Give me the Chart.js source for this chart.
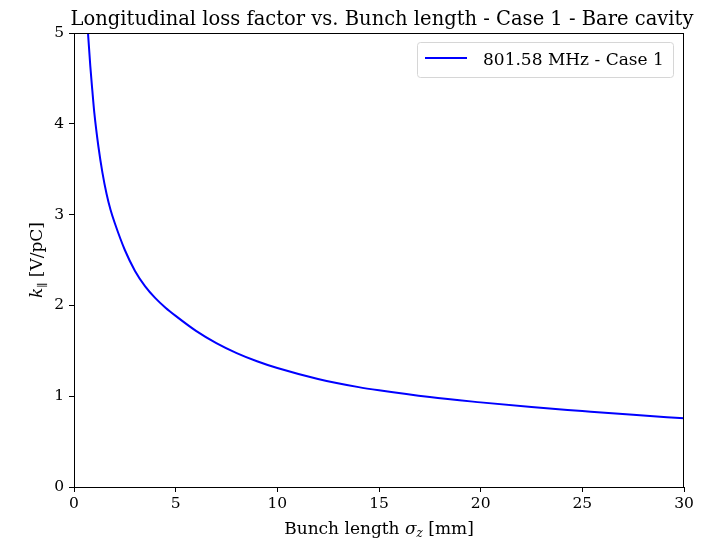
<!DOCTYPE html>
<html>
<head>
<meta charset="utf-8">
<script src="https://cdn.jsdelivr.net/npm/chart.js@4.4.1/dist/chart.umd.min.js"></script>
<style>
  html, body { margin: 0; padding: 0; background: #fff; }
  #wrap { width: 702px; height: 542px; }
</style>
</head>
<body>
<div id="wrap"><canvas id="lossChart" width="702" height="542"></canvas></div>
<script>
// bunch length sigma_z [mm] and loss factor k [V/pC]
const bunchLength = [0.6, 0.7, 0.8, 0.9, 1.0, 1.2, 1.4, 1.6, 1.8, 2.0, 2.5, 3.0, 3.5, 4.0, 4.5, 5.0, 6.0, 7.0, 8.0, 9.0, 10, 12, 14, 15, 17.5, 20, 22.5, 25, 27.5, 30];
const lossFactor  = [5.35, 4.96, 4.64, 4.37, 4.12, 3.75, 3.46, 3.23, 3.05, 2.91, 2.61, 2.38, 2.21, 2.08, 1.975, 1.885, 1.72, 1.585, 1.475, 1.385, 1.31, 1.19, 1.10, 1.065, 0.99, 0.932, 0.88, 0.837, 0.795, 0.756];
const seriesLabel = "801.58 MHz - Case 1";
const titleText = "Longitudinal loss factor vs. Bunch length - Case 1 - Bare cavity";
const xTicks = [0, 5, 10, 15, 20, 25, 30];
const yTicks = [0, 1, 2, 3, 4, 5];

const serif = "'DejaVu Serif', 'Liberation Serif', serif";

// frame, title, axis labels and legend, matplotlib style
const decor = {
    id: "decor",
    afterDraw(chart) {
        const c = chart.ctx;
        const a = chart.chartArea;
        c.save();
        c.strokeStyle = "#000";
        c.lineWidth = 1;
        c.strokeRect(a.left + 0.5, a.top + 0.5, a.right - a.left - 1, a.bottom - a.top);

        c.fillStyle = "#000";
        c.textAlign = "center";
        c.textBaseline = "alphabetic";
        c.font = "19.5px " + serif;
        c.fillText(titleText, (a.left + a.right) / 2 + 3, 25);

        // x label: Bunch length σ_z [mm]
        const partsX = [
            ["Bunch length ", "17px " + serif, 0],
            ["σ", "italic 17px " + serif, 0],
            ["z", "italic 12px " + serif, 3],
            [" [mm]", "17px " + serif, 0]
        ];
        drawParts(c, partsX, (a.left + a.right) / 2, 534);

        // y label: k_∥ [V/pC], rotated
        c.save();
        c.translate(42, (a.top + a.bottom) / 2);
        c.rotate(-Math.PI / 2);
        const partsY = [
            ["k", "italic 17px " + serif, 0],
            ["∥", "11px " + serif, 4],
            [" [V/pC]", "17px " + serif, 0]
        ];
        drawParts(c, partsY, 0, 0);
        c.restore();

        // legend
        const lx = 417.5, ly = 42.5, lw = 256, lh = 35;
        c.beginPath();
        c.roundRect(lx, ly, lw, lh, 3);
        c.fillStyle = "rgba(255,255,255,0.8)";
        c.fill();
        c.strokeStyle = "#d6d6d6";
        c.stroke();
        c.beginPath();
        c.moveTo(425, 58);
        c.lineTo(467, 58);
        c.strokeStyle = "#0000ff";
        c.lineWidth = 2;
        c.stroke();
        c.fillStyle = "#000";
        c.textAlign = "left";
        c.font = "17px " + serif;
        c.fillText(seriesLabel, 483, 65);
        c.restore();
    }
};

function drawParts(c, parts, cx, baseY) {
    let total = 0;
    parts.forEach(p => { c.font = p[1]; total += c.measureText(p[0]).width; });
    let x = cx - total / 2;
    c.textAlign = "left";
    parts.forEach(p => {
        c.font = p[1];
        c.fillText(p[0], x, baseY + p[2]);
        x += c.measureText(p[0]).width;
    });
}

const ctx = document.getElementById("lossChart").getContext("2d");
const lossChart = new Chart(ctx, {
    type: "line",
    data: {
        datasets: [{
            label: seriesLabel,
            data: bunchLength.map((x, i) => ({ x: x, y: lossFactor[i] })),
            borderColor: "#0000ff",
            borderWidth: 2,
            pointRadius: 0,
            cubicInterpolationMode: "monotone",
            fill: false
        }]
    },
    options: {
        responsive: false,
        animation: false,
        layout: { padding: { left: 0, right: 18, top: 33, bottom: 0 } },
        plugins: {
            legend: { display: false },
            title: { display: false },
            tooltip: { enabled: false }
        },
        scales: {
            x: {
                type: "linear",
                min: 0,
                max: 30,
                afterFit: s => { s.height = 55; },
                afterBuildTicks: s => { s.ticks = xTicks.map(v => ({ value: v })); },
                grid: { display: true, drawOnChartArea: false, tickLength: 5, color: "#000", tickColor: "#000" },
                border: { display: false },
                ticks: { color: "#000", font: { family: serif, size: 15.5 }, padding: 3, maxRotation: 0 }
            },
            y: {
                min: 0,
                max: 5,
                afterFit: s => { s.width = 74; },
                afterBuildTicks: s => { s.ticks = yTicks.map(v => ({ value: v })); },
                grid: { display: true, drawOnChartArea: false, tickLength: 5, color: "#000", tickColor: "#000" },
                border: { display: false },
                ticks: { color: "#000", font: { family: serif, size: 15.5 }, padding: 5 }
            }
        }
    },
    plugins: [decor]
});
</script>
</body>
</html>
